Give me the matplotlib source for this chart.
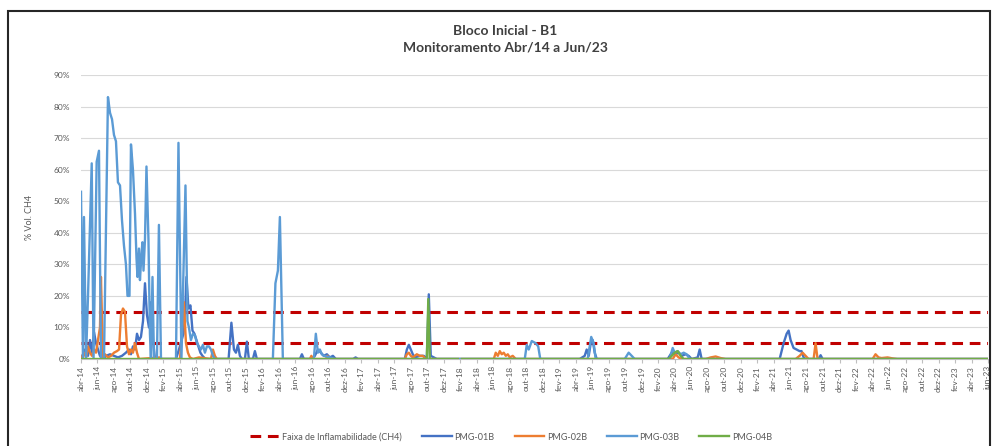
import numpy as np
import matplotlib
matplotlib.use("Agg")
import matplotlib.pyplot as plt
from matplotlib.patches import Rectangle

plt.rcParams["font.family"] = ["Lato", "DejaVu Sans"]

# x = months since abr-14 (reading positions), y = % Vol. CH4
t01 = [0, 0.48, 0.85, 1.09, 1.33, 1.58, 1.82, 2.06, 2.3, 2.67, 3.03, 3.52, 4.0, 4.48, 4.97, 5.45,
       5.82, 6.06, 6.3, 6.55, 6.79, 7.03, 7.27, 7.52, 7.76, 8.0, 8.24, 8.48, 8.73, 8.97,
       11.52, 11.88, 12.42, 12.67, 12.79, 13.03, 13.27, 13.52, 13.76, 14.0, 14.24, 14.48, 14.73, 15.1,
       17.9, 18.24, 18.55, 18.79, 19.03, 19.27, 19.52, 19.88, 20.12, 20.36, 20.85, 21.09, 21.33,
       26.55, 26.79, 27.03, 28.0, 28.36, 28.73, 29.09, 29.45, 29.82, 30.18, 30.55, 30.91,
       33.0, 33.3, 33.6, 39.27, 39.52, 39.76, 40.0, 40.24, 40.48, 41.09, 41.58, 41.94, 42.18, 42.42,
       42.79, 43.15, 60.48, 61.09, 61.33, 61.58, 61.82, 62.06, 62.3, 62.55,
       71.15, 71.64, 72.0, 72.48, 72.85, 73.33, 73.7, 74.06, 74.79, 75.03, 75.27,
       84.73, 85.21, 85.58, 85.82, 86.06, 86.42, 86.79, 87.15, 87.39, 87.64, 87.88,
       89.45, 89.7, 89.94, 110]
v01 = [0, 3, 1, 6, 2, 8.5, 5, 3, 1, 0, 1, 1.5, 1, 0.5, 1, 2,
       3, 1.5, 4, 3, 8, 6, 7, 12, 24, 14, 10, 18, 6, 0,
       0, 3, 8, 18, 26, 16, 17, 9, 8, 6, 4, 2, 1, 0,
       0, 11.5, 3, 2, 4.5, 1, 0, 0, 5.5, 0, 0, 2.5, 0,
       0, 1.5, 0, 0, 1, 3, 2, 1, 1.5, 0.5, 1, 0,
       0, 0.5, 0, 0, 3, 4.5, 3, 1.5, 0.5, 1, 1, 0, 20.5, 1,
       0.5, 0, 0, 1, 3, 1, 5, 6, 2, 0,
       0, 2, 1.5, 2, 1, 1.5, 1, 0, 0.5, 3, 0,
       0, 5, 8, 9, 6, 3.5, 3, 2.5, 2.5, 0.5, 0,
       0, 1.2, 0, 0]

t02 = [0, 0.36, 0.61, 0.85, 1.09, 1.33, 1.58, 1.82, 2.06, 2.3, 2.42, 2.67, 2.91, 3.27, 3.64, 4.0,
       4.36, 4.61, 4.85, 5.09, 5.33, 5.58, 5.82, 6.06, 6.3, 6.55, 6.79, 7.03, 9.58, 9.82,
       12.0, 12.24, 12.48, 12.73, 12.97, 13.21, 13.58, 14.3, 15.76, 16.0, 16.24, 16.48,
       27.76, 27.94, 28.12, 29.7, 29.88, 30.06,
       39.27, 39.52, 39.76, 40.0, 40.24, 40.73, 41.09, 41.45, 41.82,
       50.06, 50.3, 50.55, 50.79, 51.03, 51.27, 51.52, 51.76, 52.0, 52.36, 52.73,
       71.76, 72.12, 72.48, 72.85, 75.76, 76.36, 76.97, 77.58, 78.18,
       86.67, 87.15, 87.52, 87.88, 88.24, 88.85, 89.09, 89.33,
       96.0, 96.36, 96.73, 97.09, 97.82, 98.42, 99.0, 110]
v02 = [0, 2, 0.5, 4, 2, 1, 3, 2, 6, 10, 26, 0, 1.5, 0.5, 1, 2,
       2.5, 3, 14, 16, 15, 4, 1.5, 3, 2, 5, 2, 0, 0.5, 0,
       0, 8, 18, 5, 2, 0.5, 0, 0.5, 0, 3, 1, 0,
       0, 1, 0, 0, 1, 0,
       0, 1.5, 2, 1, 0.5, 1.5, 1, 1, 0,
       0, 2, 1, 2.5, 1.5, 2, 1, 1.5, 0.5, 1, 0,
       0, 1.5, 0.5, 0, 0, 0.5, 0.8, 0.3, 0,
       0, 1, 2, 1, 0, 0, 5, 0,
       0, 1.5, 0.5, 0.3, 0.5, 0.2, 0, 0]

t03 = [0, 0.24, 0.36, 0.61, 0.85, 1.3, 1.52, 1.9, 2.18, 2.42, 2.79, 3.27, 3.52, 3.76, 4.0, 4.24,
       4.48, 4.73, 4.97, 5.21, 5.45, 5.64, 5.88, 6.06, 6.3, 6.55, 6.73, 6.85, 7.03, 7.15, 7.33,
       7.45, 7.58, 7.76, 7.94, 8.18, 8.36, 8.48, 8.67, 8.85, 9.21, 9.45, 9.7,
       11.52, 11.82, 12.18, 12.67, 12.91, 13.09, 13.33, 13.58, 13.82, 14.06, 14.3, 14.55, 14.79,
       15.03, 15.27, 15.52, 15.76, 16.0, 16.24,
       23.27, 23.58, 23.88, 24.12, 24.48,
       28.24, 28.48, 28.73, 28.97, 29.21, 29.45, 30.18, 30.79,
       53.82, 54.06, 54.3, 54.67, 55.15, 55.45, 55.7,
       61.45, 61.88, 62.18, 62.42, 65.94, 66.42, 66.79, 67.15,
       71.39, 71.76, 72.0, 72.36, 72.73, 73.09, 73.45, 73.82, 110]
v03 = [53, 0, 45, 0, 20, 62, 0, 62.5, 66, 0, 0, 83, 78, 76, 71, 69,
       56, 55, 44, 36, 30, 20, 20, 68, 60, 46, 32, 26, 35, 25, 33,
       37, 28, 38, 61, 38, 8, 0, 26, 0, 0, 42.5, 0,
       0, 68.5, 0, 55, 12, 10, 6, 8, 7.5, 5, 4, 3, 4.5,
       2, 4, 4, 3, 1, 0,
       0, 24, 28, 45, 0,
       0, 8, 2, 3, 1.5, 1, 0.5, 0,
       0, 4.5, 3, 5.7, 5, 4, 0,
       0, 7, 5, 0, 0, 2, 1, 0,
       0, 3.5, 2, 2.5, 1.5, 2, 1.5, 0, 0]

t04 = [0, 41.94, 42.12, 42.3, 45.7, 45.9, 46.2, 71.27, 71.64, 72.0, 72.36, 72.73, 73.09, 110]
v04 = [0, 0, 19, 0, 0, np.nan, 0, 0, 1, 2, 2.5, 1, 0, 0]

faixa = [5, 15]
meses = ["jan", "fev", "mar", "abr", "mai", "jun", "jul", "ago", "set", "out", "nov", "dez"]
tick_pos = list(range(0, 111, 2))
tick_lab = []
for m in tick_pos:
    k = 3 + m
    tick_lab.append(f"{meses[k % 12]}-{14 + k // 12}")

grey = "#595959"
fig = plt.figure(figsize=(9.92, 4.46), dpi=100)
ax = fig.add_axes([81 / 992, 1 - 359 / 446, 907 / 992, 284 / 446])

for f in faixa:
    ax.plot([0, 110], [f, f], color="#C00000", lw=2.2, ls=(0, (3.5, 2.2)),
            label="Faixa de Inflamabilidade (CH4)" if f == 5 else None, zorder=2)
ax.plot(t01, v01, color="#4472C4", lw=1.7, label="PMG-01B", zorder=3)
ax.plot(t02, v02, color="#ED7D31", lw=1.7, label="PMG-02B", zorder=3)
ax.plot(t03, v03, color="#5B9BD5", lw=1.7, label="PMG-03B", zorder=3)
ax.plot(t04, v04, color="#70AD47", lw=1.7, label="PMG-04B", zorder=3)

ax.set_xlim(0, 110)
ax.set_ylim(0, 90)
ax.set_yticks(range(0, 91, 10))
ax.set_yticklabels([f"{v}%" for v in range(0, 91, 10)])
ax.set_xticks(tick_pos)
ax.set_xticklabels(tick_lab, rotation=90)
ax.tick_params(axis="y", length=0, labelsize=6, labelcolor=grey, pad=8)
ax.tick_params(axis="x", length=3, color="#bfbfbf", labelsize=6, labelcolor=grey, pad=2)
ax.grid(axis="y", color="#d9d9d9", lw=0.8)
ax.set_axisbelow(True)
for s in ["top", "right", "left"]:
    ax.spines[s].set_visible(False)
ax.spines["bottom"].set_color("#bfbfbf")
ax.set_ylabel("% Vol. CH4", fontsize=6.5, color=grey, labelpad=14)

fig.text(505 / 992, 1 - 31 / 446, "Bloco Inicial - B1", ha="center", va="center",
         fontsize=10, fontweight="bold", color="#404040")
fig.text(505 / 992, 1 - 47 / 446, "Monitoramento Abr/14 a Jun/23", ha="center", va="center",
         fontsize=10, fontweight="bold", color="#404040")

fig.legend(loc="center", bbox_to_anchor=(511 / 992, 1 - 437 / 446), ncol=5, frameon=False,
           fontsize=6.5, labelcolor=grey, handlelength=3.3, columnspacing=2.2, handletextpad=0.3)

fig.patches.append(Rectangle((8 / 992, -0.05), 982 / 992, 1.05 - 11 / 446,
                             transform=fig.transFigure, fill=False, ec="#262626", lw=1.5))

fig.savefig("out.png", dpi=100)
